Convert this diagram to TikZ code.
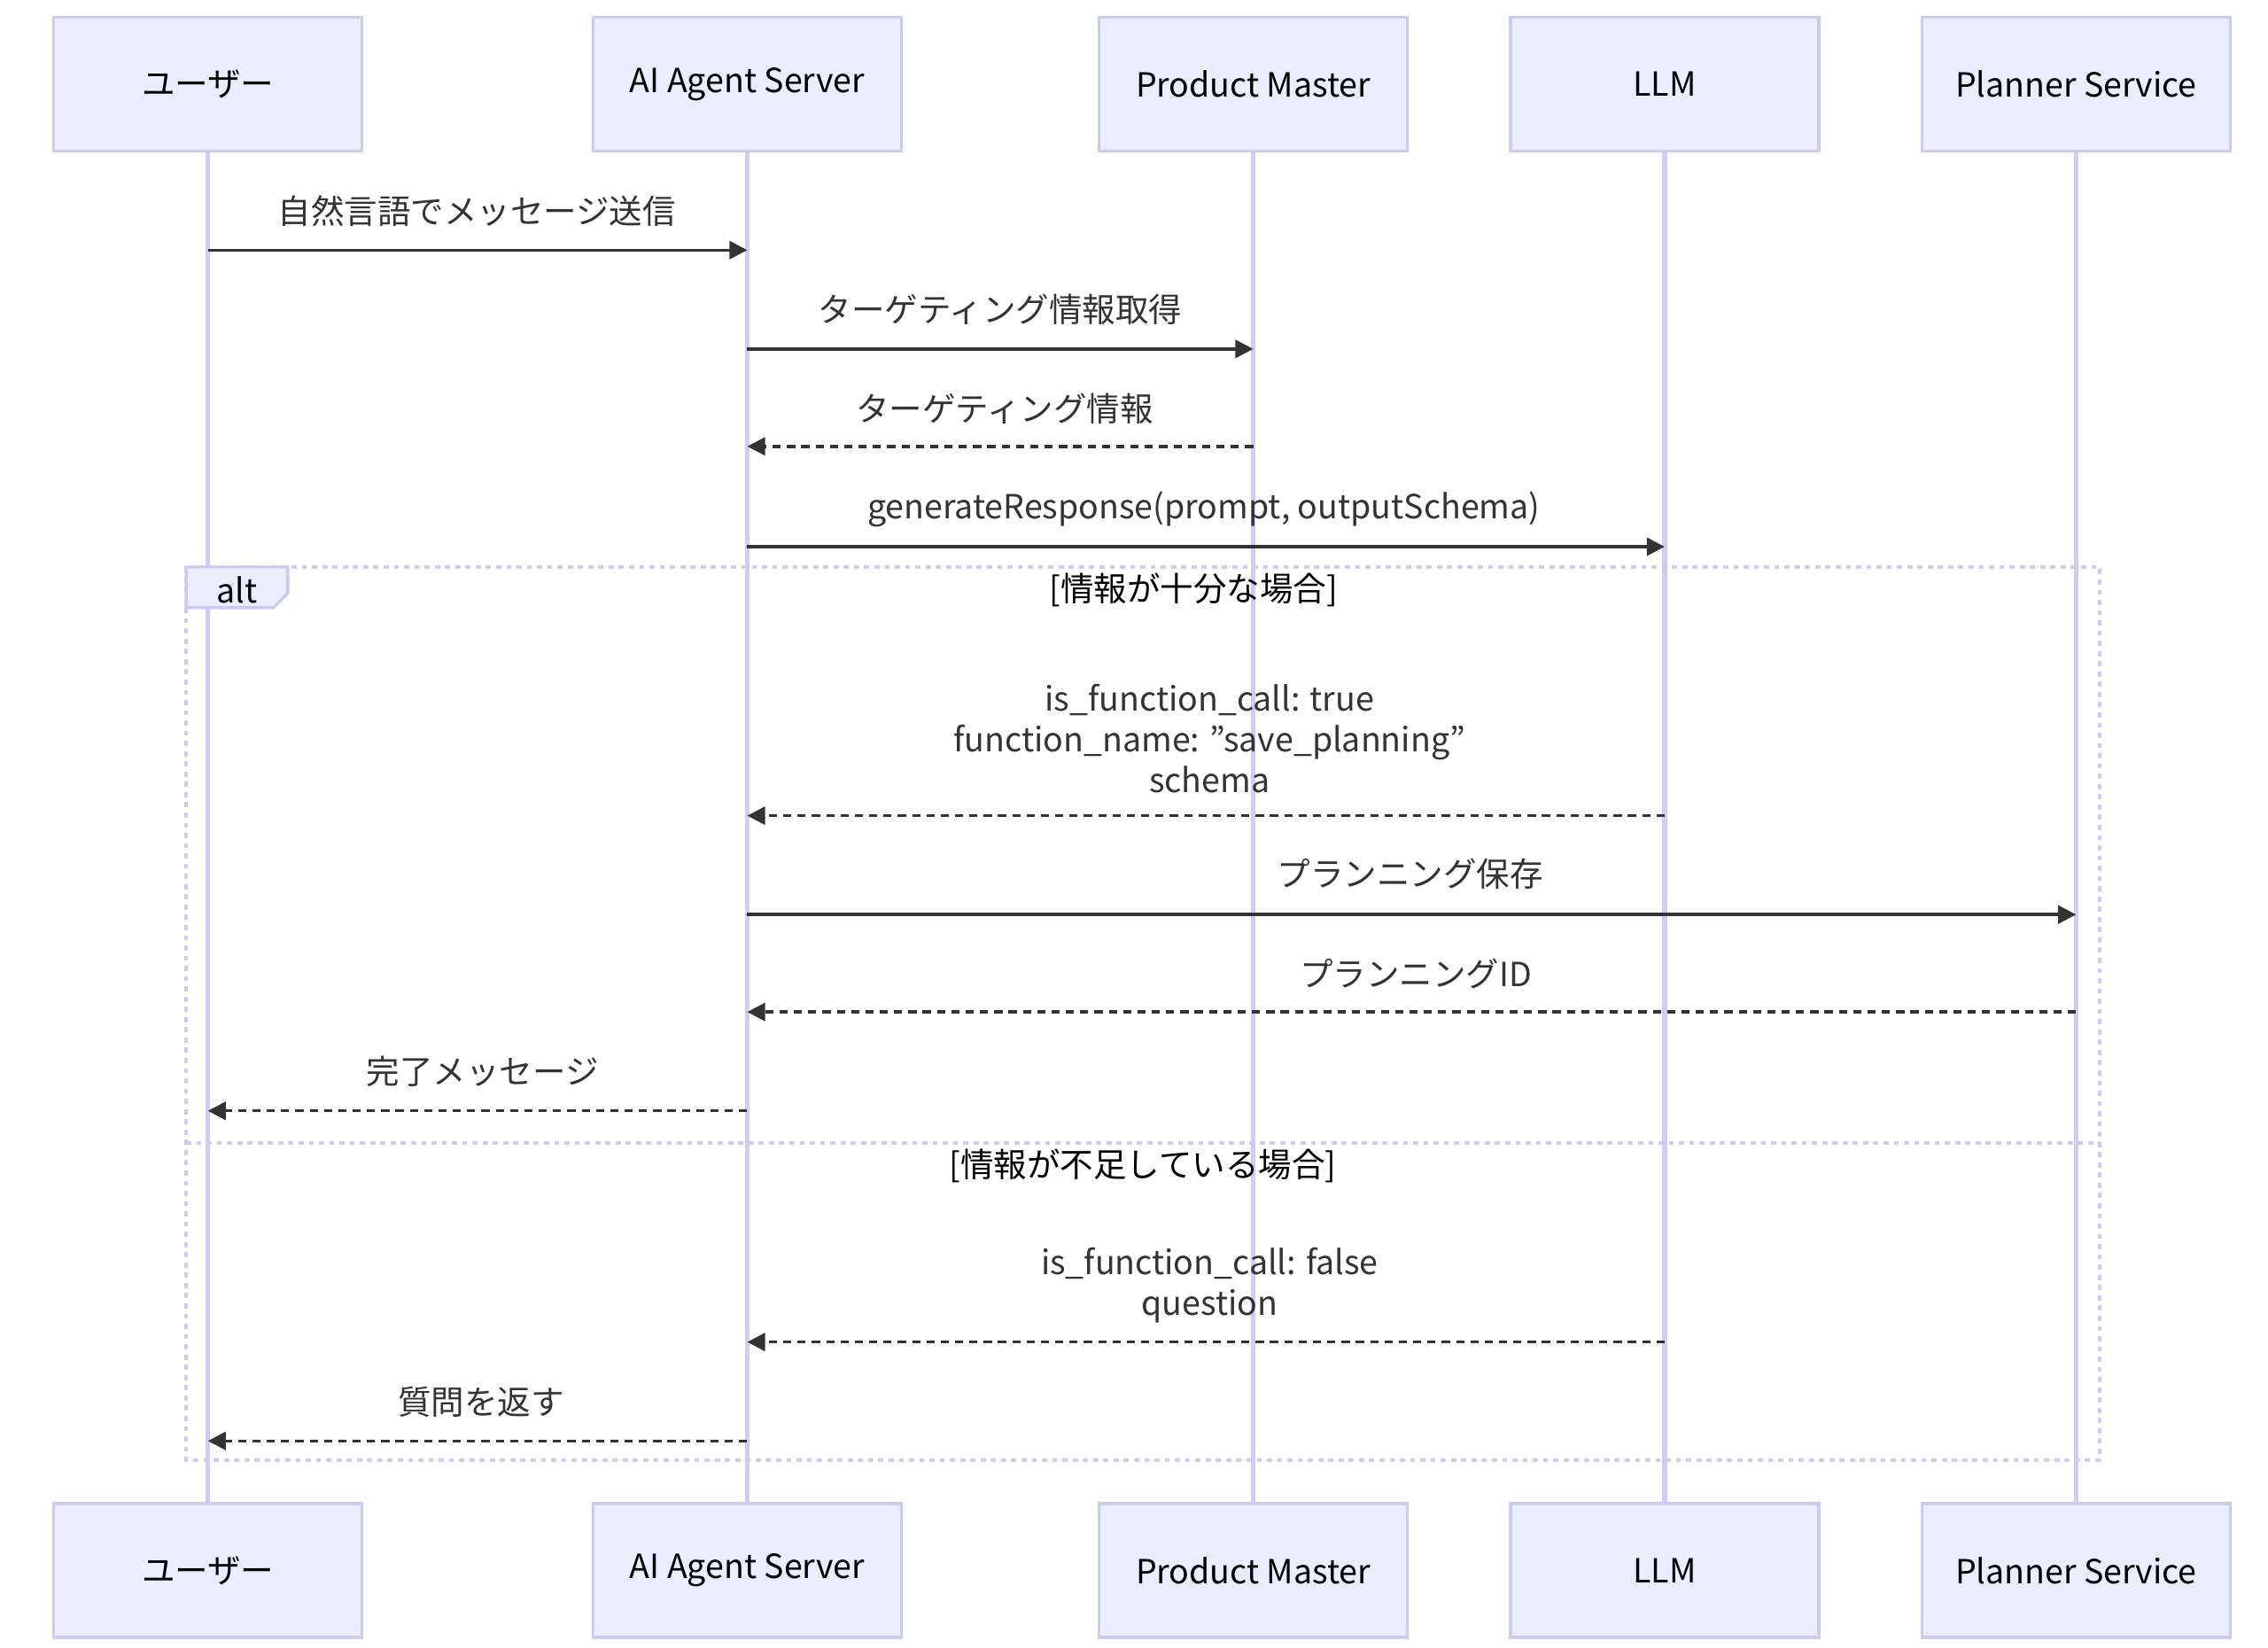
\documentclass[tikz,border=0pt]{standalone}
\usepackage{fontspec}
\setmainfont{Noto Sans CJK JP}
\usetikzlibrary{positioning,calc,arrows.meta}
\definecolor{boxfill}{HTML}{ECECFF}
\definecolor{boxline}{HTML}{CDCBF0}
\definecolor{lifeline}{HTML}{D3CCF2}
\definecolor{msgline}{HTML}{333333}
\begin{document}
\begin{tikzpicture}[x=0.01cm,y=-0.01cm,
  actor/.style={draw=boxline,fill=boxfill,line width=0.6pt,minimum width=2.12cm,minimum height=0.92cm,
    font=\fontsize{6.5}{8}\selectfont,inner sep=0pt},
  life/.style={draw=lifeline,line width=0.9pt},
  call/.style={draw=msgline,line width=0.6pt,-{Triangle[length=3.5pt,width=3.5pt]}},
  reply/.style={call,dash pattern=on 1.6pt off 1.2pt},
  lbl/.style={font=\fontsize{6.5}{8}\selectfont,text=msgline,align=center,inner sep=0pt},
  frame/.style={draw=boxline,line width=0.7pt,dash pattern=on 1pt off 1pt}]
\useasboundingbox (0,0) rectangle (1560,1133);

% participants
\node[actor] (userT) at (143,58) {ユーザー};
\node[actor] (agentT) at (514,58) {AI Agent Server};
\node[actor] (pmT) at (862,58) {Product Master};
\node[actor] (llmT) at (1145,58) {LLM};
\node[actor] (planT) at (1428,58) {Planner Service};
\node[actor] (userB) at (143,1080) {ユーザー};
\node[actor] (agentB) at (514,1080) {AI Agent Server};
\node[actor] (pmB) at (862,1080) {Product Master};
\node[actor] (llmB) at (1145,1080) {LLM};
\node[actor] (planB) at (1428,1080) {Planner Service};

% lifelines
\begin{scope}[on background layer/.style={}]
\foreach \p in {user,agent,pm,llm,plan}
  \draw[life] (\p T.south) -- (\p B.north);
\end{scope}

% alt frame
\draw[frame,fill=white,fill opacity=0] (128,390) rectangle (1444,1004);
\draw[frame] (128,786) -- (1444,786);
\draw[draw=boxline,fill=boxfill,line width=0.6pt] (128,390) -- (198,390) -- (198,408) -- (188,418) -- (128,418) -- cycle;
\node[lbl,text=black] (altTag) at (163,406) {alt};
\node[lbl,text=black] (guardA) at (821,406) {[情報が十分な場合]};
\node[lbl,text=black] (guardB) at (786,802) {[情報が不足している場合]};

% message end points
\coordinate (m1a) at (143,172);  \coordinate (m1b) at (514,172);
\coordinate (m2a) at (514,240);  \coordinate (m2b) at (862,240);
\coordinate (m3a) at (862,307);  \coordinate (m3b) at (514,307);
\coordinate (m4a) at (514,376);  \coordinate (m4b) at (1145,376);
\coordinate (m5a) at (1145,561); \coordinate (m5b) at (514,561);
\coordinate (m6a) at (514,629);  \coordinate (m6b) at (1428,629);
\coordinate (m7a) at (1428,696); \coordinate (m7b) at (514,696);
\coordinate (m8a) at (514,764);  \coordinate (m8b) at (143,764);
\coordinate (m9a) at (1145,923); \coordinate (m9b) at (514,923);
\coordinate (m10a) at (514,991); \coordinate (m10b) at (143,991);

% messages
\draw[call] (m1a) -- (m1b);
\node[lbl] (t1) at (328,145) {自然言語でメッセージ送信};
\draw[call] (m2a) -- (m2b);
\node[lbl] (t2) at (688,213) {ターゲティング情報取得};
\draw[reply] (m3a) -- (m3b);
\node[lbl] (t3) at (691,281) {ターゲティング情報};
\draw[call] (m4a) -- (m4b);
\node[lbl] (t4) at (828,350) {generateResponse(prompt, outputSchema)};
\draw[reply] (m5a) -- (m5b);
\node[lbl] (t5) at (832,508) {is\_function\_call: true\\function\_name: "save\_planning"\\schema};
\draw[call] (m6a) -- (m6b);
\node[lbl] (t6) at (970,601) {プランニング保存};
\draw[reply] (m7a) -- (m7b);
\node[lbl] (t7) at (974,670) {プランニングID};
\draw[reply] (m8a) -- (m8b);
\node[lbl] (t8) at (332,737) {完了メッセージ};
\draw[reply] (m9a) -- (m9b);
\node[lbl] (t9) at (832,884) {is\_function\_call: false\\question};
\draw[reply] (m10a) -- (m10b);
\node[lbl] (t10) at (331,964) {質問を返す};
\end{tikzpicture}
\end{document}
